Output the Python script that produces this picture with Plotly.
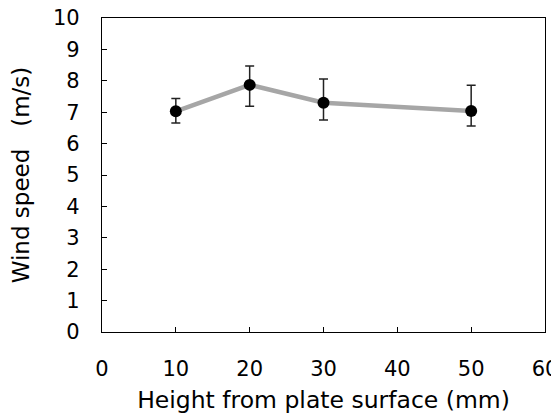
import plotly.graph_objects as go

heights = [10, 20, 30, 50]
wind_speed = [7.03, 7.87, 7.30, 7.04]
err_plus = [0.41, 0.60, 0.76, 0.82]
err_minus = [0.37, 0.68, 0.55, 0.48]

x_ticks = [0, 10, 20, 30, 40, 50, 60]
y_ticks = [0, 1, 2, 3, 4, 5, 6, 7, 8, 9, 10]

FONT = "DejaVu Sans, sans-serif"

fig = go.Figure()
fig.add_trace(go.Scatter(
    x=heights, y=wind_speed, mode="lines+markers",
    line=dict(color="#a6a6a6", width=4.5),
    marker=dict(color="black", size=12),
    error_y=dict(type="data", symmetric=False, array=err_plus, arrayminus=err_minus,
                 color="#222222", thickness=1.5, width=4.5),
    showlegend=False,
))

# page body has an 8px margin; size the figure to compensate
fig.update_layout(
    width=551, height=411,
    margin=dict(l=94, r=14, t=10, b=87),
    paper_bgcolor="white", plot_bgcolor="white",
    font=dict(family=FONT, size=21, color="black"),
    xaxis=dict(
        range=[0, 60], tickvals=x_ticks, ticks="inside", ticklen=5, tickwidth=1,
        tickcolor="black", showline=True, linecolor="black", linewidth=1.2,
        mirror=True, showgrid=False, zeroline=False, automargin=False,
        ticklabelstandoff=18, ticklabeloverflow="allow",
        tickfont=dict(size=21), title=dict(text="Height from plate surface (mm)", font=dict(size=23.5), standoff=11),
    ),
    yaxis=dict(
        range=[0, 10], tickvals=y_ticks, ticks="inside", ticklen=5, tickwidth=1,
        tickcolor="black", showline=True, linecolor="black", linewidth=1.2,
        mirror=True, showgrid=False, zeroline=False, automargin=False,
        ticklabelstandoff=17, ticklabeloverflow="allow",
        tickfont=dict(size=21), title=dict(text="Wind speed   (m/s)", font=dict(size=23), standoff=26),
    ),
)

fig.write_html("out.html")
